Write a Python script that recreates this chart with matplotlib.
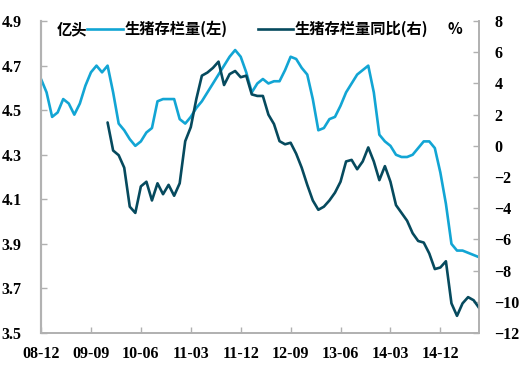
import matplotlib
matplotlib.use("Agg")
import matplotlib.pyplot as plt
from matplotlib.lines import Line2D
import numpy as np

plt.rcParams['font.family'] = ['Noto Sans CJK SC', 'DejaVu Sans']

# Monthly data 2008-12 .. 2015-07
stock = [4.64, 4.58, 4.47, 4.49, 4.55, 4.53, 4.48, 4.53, 4.61, 4.67,
         4.70, 4.67, 4.70, 4.58, 4.44, 4.41, 4.37, 4.34, 4.36, 4.40,
         4.42, 4.54, 4.55, 4.55, 4.55, 4.46, 4.44, 4.47, 4.51, 4.54,
         4.58, 4.62, 4.66, 4.70, 4.74, 4.77, 4.74, 4.67, 4.58, 4.62,
         4.64, 4.62, 4.63, 4.63, 4.68, 4.74, 4.73, 4.69, 4.66, 4.55,
         4.41, 4.42, 4.46, 4.47, 4.52, 4.58, 4.62, 4.66, 4.68, 4.70,
         4.58, 4.39, 4.36, 4.34, 4.30, 4.29, 4.29, 4.30, 4.33, 4.36,
         4.36, 4.33, 4.22, 4.08, 3.90, 3.87, 3.87, 3.86, 3.85, 3.84]

yoy = [None] * 12 + [
    1.5, -0.3, -0.6, -1.4, -3.9, -4.3, -2.6, -2.3, -3.5, -2.4,
    -3.1, -2.5, -3.2, -2.4, 0.3, 1.2, 3.0, 4.5, 4.7, 5.0,
    5.4, 3.9, 4.6, 4.8, 4.4, 4.5, 3.3, 3.2, 3.2, 2.0,
    1.4, 0.3, 0.1, 0.2, -0.5, -1.4, -2.5, -3.5, -4.1, -3.9,
    -3.5, -3.0, -2.3, -1.0, -0.9, -1.5, -1.0, -0.1, -1.0, -2.2,
    -1.3, -2.3, -3.8, -4.3, -4.8, -5.6, -6.1, -6.2, -6.9, -7.9,
    -7.8, -7.4, -10.1, -10.9, -10.1, -9.7, -9.9, -10.4]

xlabels = ['08-12', '09-09', '10-06', '11-03', '11-12', '12-09', '13-06', '14-03', '14-12']
left_ticks = [3.5, 3.7, 3.9, 4.1, 4.3, 4.5, 4.7, 4.9]
right_ticks = [-12, -10, -8, -6, -4, -2, 0, 2, 4, 6, 8]

blue = '#12A5D4'
dark = '#064A5E'
gray = '#B0B0B0'

fig = plt.figure(figsize=(5.26, 3.70), dpi=100)
ax = fig.add_axes([0.078, 0.10, 0.833, 0.843])
ax2 = ax.twinx()

x = np.arange(len(stock))
ax.plot(x, stock, color=blue, lw=1.9, solid_joinstyle='round', solid_capstyle='round')
yv = np.array([np.nan if v is None else v for v in yoy], dtype=float)
ax2.plot(x, yv, color=dark, lw=1.9, solid_joinstyle='round', solid_capstyle='round')

ax.set_xlim(0, len(stock) - 1)
ax.set_ylim(3.5, 4.9)
ax2.set_ylim(-12, 8)
ax.set_yticks(left_ticks)
ax.set_yticklabels([f'{v:.1f}' for v in left_ticks])
ax2.set_yticks(right_ticks)
ax.set_xticks(np.arange(0, 73, 9))
ax.set_xticklabels(xlabels)

for lab in ax.get_yticklabels() + ax.get_xticklabels() + ax2.get_yticklabels():
    lab.set_fontfamily('Liberation Serif')
    lab.set_fontweight('bold')
    lab.set_fontsize(11.5)
    lab.set_color('black')

for a in (ax, ax2):
    for s in a.spines.values():
        s.set_color(gray)
        s.set_linewidth(1.2)
    a.spines['top'].set_visible(False)
ax.spines['left'].set_color('#C0C0C0')
ax.spines['left'].set_linewidth(1.6)
ax.tick_params(axis='both', direction='in', length=4, color=gray, width=1.0)
ax.tick_params(axis='y', pad=14)
ax.tick_params(axis='x', pad=9)
ax2.tick_params(axis='y', direction='in', length=4, color=gray, width=1.0, pad=11)

# legend / unit texts
ly = 1 - 29 / 370
lfont = dict(fontsize=11, fontweight='bold', color='black', va='center',
             family=['Noto Sans CJK SC', 'DejaVu Sans'])
fig.text(57 / 526, ly, '亿头', ha='left', **lfont)
fig.add_artist(Line2D([87 / 526, 123 / 526], [ly, ly], color=blue, lw=1.9,
                      transform=fig.transFigure))
fig.text(125 / 526, ly, '生猪存栏量(左)', ha='left', **lfont)
fig.add_artist(Line2D([258 / 526, 293 / 526], [ly, ly], color=dark, lw=1.9,
                      transform=fig.transFigure))
fig.text(295 / 526, ly, '生猪存栏量同比(右)', ha='left', **lfont)
fig.text(448 / 526, ly, '%', ha='left', **lfont)

fig.savefig('out.png', dpi=100)
